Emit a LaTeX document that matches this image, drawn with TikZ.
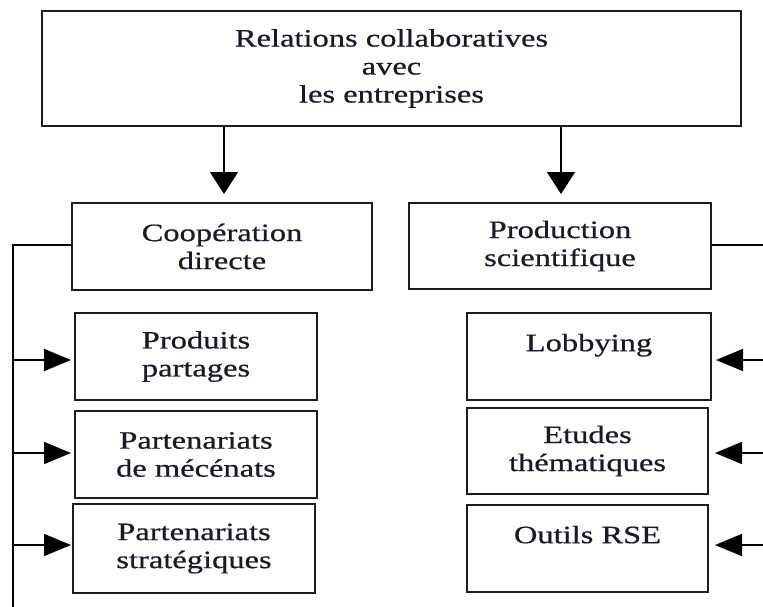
\documentclass[tikz,border=0pt]{standalone}
\usepackage{fontspec}
\setmainfont{Liberation Serif}[FakeStretch=1.3, FakeBold=0.6]
\usepackage{tikz}
\usetikzlibrary{positioning, calc, arrows.meta}
\definecolor{inkcol}{RGB}{25, 25, 45}
\definecolor{framecol}{RGB}{30, 30, 30}

\begin{document}
\begin{tikzpicture}[
    x=1pt, y=-1pt,
    catbox/.style={draw=framecol, line width=2pt, fill=white, align=center, text=inkcol, inner sep=0pt, font=\fontsize{25}{28}\selectfont},
    itembox/.style={catbox, minimum width=242pt, minimum height=87pt},
    downarrow/.style={-{Triangle[width=28pt, length=22pt]}, line width=1.6pt, black},
    sidearrow/.style={-{Triangle[width=22pt, length=27pt]}, line width=1.6pt, black},
    busline/.style={line width=1.6pt, black}
]
    \useasboundingbox (0,0) rectangle (763,607);

    \node[catbox, minimum width=699pt, minimum height=115pt] (top) at (391.5,68.5) {Relations collaboratives\\avec\\les entreprises};
    \node[catbox, minimum width=300pt, minimum height=87pt] (coop) at (222,246.5) {Coopération\\directe};
    \node[catbox, minimum width=302pt, minimum height=86pt] (prod) at (560,246) {Production\\scientifique};

    % cooperation directe
    \node[itembox] (produits) at (196,356.5) {Produits\\partages};
    \node[itembox] (mecenats) at (196,454.5) {Partenariats\\de mécénats};
    \node[itembox, minimum height=89pt] (strateg) at (194,548.5) {Partenariats\\stratégiques};

    % production scientifique
    \node[itembox, minimum width=244pt] (lobbying) at (589,356.5) {Lobbying\\\mbox{}};
    \node[itembox, minimum width=241pt, minimum height=86pt] (etudes) at (587.5,451) {Etudes\\thématiques};
    \node[itembox, minimum width=241pt] (outils) at (587.5,548.5) {Outils RSE\\\mbox{}};

    \coordinate (lbus) at (13,245);
    \coordinate (lend) at (13,607);
    \coordinate (rbus) at (766,245);
    \coordinate (rend) at (766,607);

    \draw [downarrow] (top.south -| 224,0) -- ([yshift=8pt]coop.north -| 224,0);
    \draw [downarrow] (top.south -| 561,0) -- ([yshift=8pt]prod.north -| 561,0);

    \draw [busline] (coop.west |- lbus) -- (lbus) -- (lend);
    \draw [busline] (prod.east |- rbus) -- (rbus) -- (rend);

    \draw [sidearrow] (lbus |- 0,360) -- ([xshift=-3pt]produits.west |- 0,360);
    \draw [sidearrow] (lbus |- 0,453) -- ([xshift=-3pt]mecenats.west |- 0,453);
    \draw [sidearrow] (lbus |- 0,545) -- ([xshift=-1pt]strateg.west |- 0,545);

    \draw [sidearrow] (rbus |- 0,360) -- ([xshift=4pt]lobbying.east |- 0,360);
    \draw [sidearrow] (rbus |- 0,453) -- ([xshift=6pt]etudes.east |- 0,453);
    \draw [sidearrow] (rbus |- 0,545) -- ([xshift=6pt]outils.east |- 0,545);
\end{tikzpicture}
\end{document}
